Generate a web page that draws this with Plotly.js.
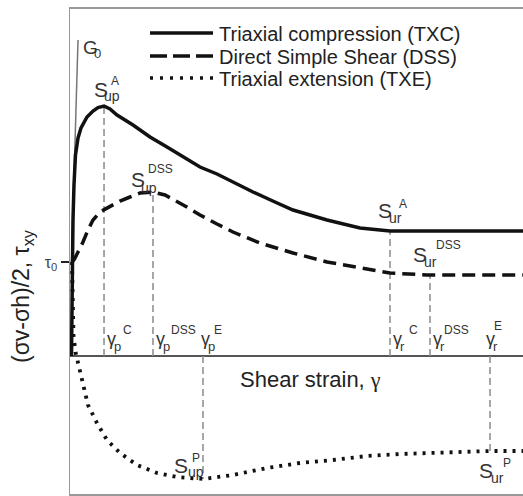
<!DOCTYPE html>
<html>
<head>
<meta charset="utf-8">
<script src="https://cdn.plot.ly/plotly-3.0.1.min.js"></script>
<style>html,body{margin:0;padding:0;background:#fff;}#chart{width:523px;height:496px;}</style>
</head>
<body>
<div id="chart"></div>
<script>
// ---- data (arbitrary schematic units: strain on x, shear stress on y) ----
const seriesNames = ['Triaxial compression (TXC)', 'Direct Simple Shear (DSS)', 'Triaxial extension (TXE)'];
const tau0 = 0.94;

const strainTXC = [0.033, 0.044, 0.066, 0.088, 0.121, 0.177, 0.243, 0.375, 0.508, 0.618, 0.751, 0.883, 1.038, 1.391, 1.766, 2.141, 2.494, 2.870, 3.245, 3.598, 4.040, 4.525, 4.923, 5.673, 6.402, 7.064, 10.0];
const stressTXC = [0.00, 0.94, 1.36, 1.71, 2.01, 2.18, 2.28, 2.39, 2.45, 2.485, 2.50, 2.47, 2.41, 2.31, 2.19, 2.09, 1.99, 1.89, 1.82, 1.74, 1.64, 1.54, 1.46, 1.36, 1.28, 1.25, 1.25];

const strainDSS = [0.044, 0.100, 0.155, 0.221, 0.287, 0.397, 0.508, 0.662, 0.883, 1.104, 1.325, 1.545, 1.832, 2.097, 2.539, 2.870, 3.245, 3.598, 4.194, 4.923, 5.673, 6.402, 7.064, 7.881, 10.0];
const stressDSS = [0.94, 0.97, 1.02, 1.08, 1.14, 1.26, 1.36, 1.44, 1.50, 1.55, 1.59, 1.63, 1.64, 1.61, 1.50, 1.41, 1.32, 1.24, 1.13, 1.03, 0.94, 0.88, 0.83, 0.81, 0.81];

const strainTXE = [0.044, 0.055, 0.077, 0.121, 0.177, 0.243, 0.309, 0.397, 0.596, 0.817, 1.104, 1.479, 1.921, 2.362, 2.936, 3.598, 4.349, 5.077, 5.806, 6.556, 7.285, 8.013, 9.272, 10.0];
const stressTXE = [0.94, 0.56, 0.21, 0.04, -0.07, -0.19, -0.31, -0.49, -0.67, -0.84, -0.97, -1.09, -1.17, -1.21, -1.23, -1.19, -1.12, -1.07, -1.04, -1.00, -0.98, -0.97, -0.95, -0.95];

const peakStrain  = [0.751, 1.832, 2.936];
const peakStress  = [2.50, 1.64, -1.23];
const residStrain = [7.064, 7.947, 9.272];
const residStress = [1.25, 0.81, -0.95];

const g0Strain = [0.033, 0.177];
const g0Stress = [0.94, 3.16];

// ---- styling ----
const FONT = 'Liberation Sans, Arial, sans-serif';
const curveDash = ['solid', '13px,7px', '3px,6px'];
const legendDash = ['solid', '17px,6px', '3px,7px'];
const W = 3.5;

// reference (gray dashed) verticals built from the peak / residual arrays
const refX = [], refY = [];
for (let i = 0; i < 3; i++) {
  refX.push(peakStrain[i], peakStrain[i], null, residStrain[i], residStrain[i], null);
  refY.push(0, peakStress[i], null, 0, residStress[i], null);
}

const traces = [
  {x: refX, y: refY, mode: 'lines', line: {color: '#8a8a8a', width: 1.5, dash: '7px,4px'}, hoverinfo: 'skip'},
  {x: g0Strain, y: g0Stress, mode: 'lines', line: {color: '#777', width: 1.5}, hoverinfo: 'skip'},
  {x: strainTXC, y: stressTXC, name: seriesNames[0], mode: 'lines', line: {color: '#111', width: W, dash: curveDash[0]}},
  {x: strainDSS, y: stressDSS, name: seriesNames[1], mode: 'lines', line: {color: '#111', width: W, dash: curveDash[1]}},
  {x: strainTXE, y: stressTXE, name: seriesNames[2], mode: 'lines', line: {color: '#111', width: 3.8, dash: curveDash[2]}}
];

// pixel -> paper helpers (plot area: x 70..523, y 9..494)
const PX = p => (p - 70) / 453;
const PY = p => (494 - p) / 485;

const annotations = [];
function lab(text, px, py, size, extra) {
  annotations.push(Object.assign({
    text: text, xref: 'paper', yref: 'paper', x: PX(px), y: PY(py),
    xanchor: 'left', yanchor: 'middle', showarrow: false,
    font: {family: FONT, size: size, color: '#333'}
  }, extra || {}));
}

// point labels: [main, sub, sup, main x,y, sub x,y, sup x,y]
const labels = [
  ['S', 'up', 'A',   92, 90,  102, 96,  109, 81],
  ['S', 'up', 'DSS', 129, 180, 139, 188, 146, 169],
  ['S', 'ur', 'A',   376, 210, 387, 218, 397, 204],
  ['S', 'ur', 'DSS', 411, 254, 422, 262, 434, 245],
  ['S', 'up', 'P',   172, 465, 186, 472, 190, 458],
  ['S', 'ur', 'P',   477, 470, 489, 478, 501, 463]
];
labels.forEach(l => {
  lab(l[0], l[3], l[4], 21);
  lab(l[1], l[5], l[6], 14);
  lab(l[2], l[7], l[8], 12);
});
const gammas = [
  ['p', 'C',   105, 121],
  ['p', 'DSS', 154, 169],
  ['p', 'E',   199, 212],
  ['r', 'C',   391, 407],
  ['r', 'DSS', 431, 442],
  ['r', 'E',   484, 492]
];
gammas.forEach(g => {
  lab('γ', g[2], 339, 18);
  lab(g[0], g[2] + 7, 346, 13);
  lab(g[1], g[3], g[1] === 'E' && g[0] === 'r' ? 326 : 330, 12);
});
lab('G', 81, 47, 19);
lab('0', 92, 53, 13);

// axis title (horizontal) and y title
annotations.push({
  text: 'Shear strain, <span style="font-family:Liberation Serif">γ</span>',
  xref: 'paper', yref: 'paper', x: PX(310), y: PY(379), xanchor: 'center', yanchor: 'middle',
  showarrow: false, font: {family: FONT, size: 22, color: '#222'}
});
annotations.push({
  text: '(σv-σh)/2, τ<sub>xy</sub>',
  xref: 'paper', yref: 'paper', x: PX(22), y: PY(296), xanchor: 'center', yanchor: 'middle',
  textangle: -90, showarrow: false, font: {family: FONT, size: 23, color: '#222'}
});

// manual legend
const legendRows = [33, 56, 78];
const shapes = [];
seriesNames.forEach((n, i) => {
  shapes.push({type: 'line', xref: 'paper', yref: 'paper', x0: PX(150), x1: PX(213), y0: PY(legendRows[i]), y1: PY(legendRows[i]),
    line: {color: '#111', width: W, dash: legendDash[i]}});
  lab(n, 217, legendRows[i] + 1, 20, {font: {family: FONT, size: 20, color: '#222'}});
});

const layout = {
  width: 523, height: 496,
  margin: {l: 70, r: 0, t: 9, b: 2},
  paper_bgcolor: '#fff', plot_bgcolor: '#fff',
  showlegend: false,
  hovermode: false,
  xaxis: {range: [0, 10], showgrid: false, zeroline: false, showticklabels: false, ticks: '',
    showline: true, mirror: true, linecolor: '#999', linewidth: 2},
  yaxis: {range: [-1.38, 3.47], showgrid: false, zeroline: true, zerolinecolor: '#555', zerolinewidth: 1.5,
    showline: true, linecolor: '#999', linewidth: 1.5,
    tickvals: [tau0], ticktext: ['τ<sub>0</sub>'], ticks: 'outside', ticklen: 8, tickwidth: 2, tickcolor: '#222',
    tickfont: {family: FONT, size: 16, color: '#444'}},
  annotations: annotations,
  shapes: shapes,
  font: {family: FONT}
};

Plotly.newPlot('chart', traces, layout, {staticPlot: true, displayModeBar: false});
</script>
</body>
</html>
